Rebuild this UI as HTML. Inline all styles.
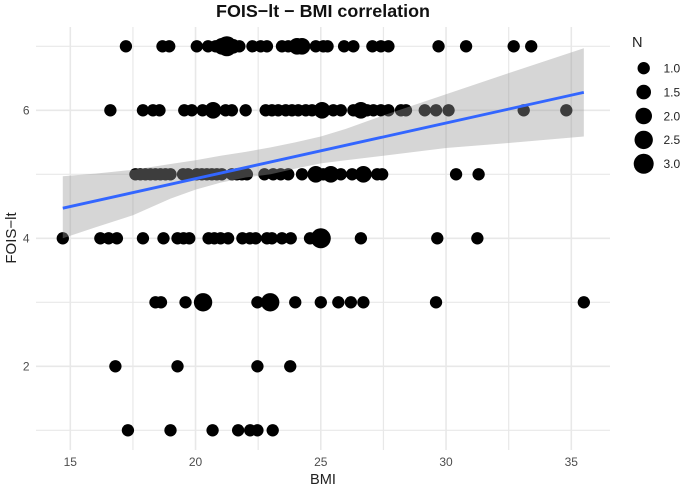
<!DOCTYPE html>
<html>
<head>
<meta charset="utf-8">
<title>FOIS-lt - BMI correlation</title>
<style>
html,body{margin:0;padding:0;background:#fff;}
svg{display:block;font-family:"Liberation Sans",sans-serif;filter:blur(.35px);}
</style>
</head>
<body>
<svg id="chart" width="685" height="488" viewBox="0 0 685 488" xmlns="http://www.w3.org/2000/svg">
<g id="grid"></g>
<g id="points"></g>
<path id="ribbon" fill="#999999" fill-opacity="0.4"></path>
<line id="trend" stroke="#3366ff" stroke-width="2.9"></line>
<g id="xticks"></g>
<g id="yticks"></g>
<text x="323" y="17" text-anchor="middle" font-size="17.6" font-weight="bold" fill="#111" textLength="214" lengthAdjust="spacingAndGlyphs">FOIS−lt − BMI correlation</text>
<text x="323" y="484" text-anchor="middle" font-size="14.6" fill="#222">BMI</text>
<text transform="translate(16,238) rotate(-90)" text-anchor="middle" font-size="15" fill="#222">FOIS−lt</text>
<g id="legend">
<text x="632" y="47" font-size="14.6" fill="#222">N</text>
</g>
</svg>
<script>
// Axis ticks
const xMajorTicks = [15, 20, 25, 30, 35];
const xMinorTicks = [17.5, 22.5, 27.5, 32.5];
const yMajorTicks = [2, 4, 6];
const yMinorTicks = [1, 3, 5, 7];
const legendValues = [1.0, 1.5, 2.0, 2.5, 3.0];

// Scatter rows: BMI values and the count N at each
const foisRows = [7, 6, 5, 4, 3, 2, 1];
const row7Bmi = [17.22,18.68,18.95,20.05,20.5,20.8,21.05,21.25,21.5,21.75,22.27,22.6,22.85,23.45,23.7,24.05,24.25,24.8,25.1,25.27,25.93,26.3,27.06,27.4,27.7,29.7,30.8,32.7,33.4];
const row7N   = [1,1,1,1,1,1,2,3,1.5,1,1,1,1,1,1,2,2,1,1,1,1,1,1,1,1,1,1,1,1];
const row6Bmi = [16.6,17.9,18.3,18.56,19.55,19.85,20.28,20.7,21.2,21.45,22,22.8,23.05,23.3,23.6,23.85,24.1,24.4,24.65,25.05,25.5,25.8,26.3,26.6,26.85,27.1,27.4,27.7,28.2,28.4,29.15,29.6,30.1,33.1,34.8];
const row6N   = [1,1,1,1,1,1,1,2,1,1,1,1,1,1,1,1,1,1,1,2,1,1,1,2,1,1,1,1,1,1,1,1,1,1,1];
const row5Bmi = [17.6,17.8,18,18.2,18.4,18.6,18.8,19,19.5,19.7,20.05,20.25,20.45,20.65,20.85,21.05,21.45,21.65,21.85,22.05,22.75,23.1,23.4,23.7,24.25,24.8,25.1,25.4,25.8,26.25,26.7,27.25,27.45,30.4,31.3];
const row5N   = [1,1,1,1,1,1,1,1,1,1,1,1,1,1,1,1,1,1,1,1,1,1,1,1,1,2,1,2,1,1,2,1,1,1,1];
const row4Bmi = [14.7,16.2,16.53,16.86,17.9,18.72,19.28,19.52,19.75,20.52,20.75,21,21.3,21.87,22.17,22.4,22.85,23.05,23.45,23.8,24.57,25,26.6,29.65,31.25];
const row4N   = [1,1,1,1,1,1,1,1,1,1,1,1,1,1,1,1,1,1,1,1,1,3,1,1,1];
const row3Bmi = [18.4,18.62,19.6,20.3,22.47,22.98,23.98,25,25.7,26.2,26.7,29.6,35.5];
const row3N   = [1,1,1,2.5,1,2.5,1,1,1,1,1,1,1];
const row2Bmi = [16.8,19.28,22.47,23.78];
const row2N   = [1,1,1,1];
const row1Bmi = [17.3,19,20.68,21.7,22.18,22.47,23.08];
const row1N   = [1,1,1,1,1,1,1];

// Fitted line and confidence band
const trendBmi = [14.7, 35.5];
const trendFois = [4.47, 6.28];
const bandBmi = [14.7, 16, 17.5, 19, 20, 21, 22, 23, 24, 25, 26, 27.5, 30, 32.5, 35.5];
const bandHigh = [4.97, 5.01, 5.07, 5.16, 5.22, 5.29, 5.35, 5.42, 5.5, 5.59, 5.71, 5.92, 6.25, 6.58, 6.97];
const bandLow = [4.0, 4.17, 4.36, 4.62, 4.76, 4.87, 4.95, 5.0, 5.09, 5.17, 5.22, 5.29, 5.41, 5.49, 5.59];

const NS = 'http://www.w3.org/2000/svg';
function xScale(v) { return 70.3 + (v - 15) * 25.05; }
function yScale(v) { return 430.3 - (v - 1) * 64; }
function rScale(n) { return Math.sqrt(38 + (n - 1) * 31); }
function make(tag, attrs, parent) {
  const el = document.createElementNS(NS, tag);
  for (const k in attrs) el.setAttribute(k, attrs[k]);
  parent.appendChild(el);
  return el;
}

const grid = document.getElementById('grid');
function vLine(v, w) {
  const el = make('line', {x1: xScale(v), x2: xScale(v), y1: 27, y2: 450, stroke: '#e8e8e8', 'stroke-width': w}, grid);
  
  
}
function hLine(v, w) {
  const el = make('line', {x1: 36, x2: 610, y1: yScale(v), y2: yScale(v), stroke: '#e8e8e8', 'stroke-width': w}, grid);
  
  
}
xMinorTicks.forEach(v => vLine(v, 1.2));
yMinorTicks.forEach(v => hLine(v, 1.2));
xMajorTicks.forEach(v => vLine(v, 1.6));
yMajorTicks.forEach(v => hLine(v, 1.6));

const pointLayer = document.getElementById('points');
function drawRow(fois, bmis, ns) {
  bmis.forEach((b, i) => {
    const c = make('circle', {cx: xScale(b), cy: yScale(fois), r: rScale(ns[i]), fill: '#000'}, pointLayer);
    
    
  });
}
const rowBmis = [row7Bmi, row6Bmi, row5Bmi, row4Bmi, row3Bmi, row2Bmi, row1Bmi];
const rowNs = [row7N, row6N, row5N, row4N, row3N, row2N, row1N];
foisRows.forEach((f, i) => drawRow(f, rowBmis[i], rowNs[i]));

let d = bandBmi.map((b, i) => (i ? 'L' : 'M') + xScale(b) + ' ' + yScale(bandHigh[i])).join(' ');
for (let i = bandBmi.length - 1; i >= 0; i--) d += ' L' + xScale(bandBmi[i]) + ' ' + yScale(bandLow[i]);
document.getElementById('ribbon').setAttribute('d', d + ' Z');

const trend = document.getElementById('trend');
trend.setAttribute('x1', xScale(trendBmi[0]));
trend.setAttribute('x2', xScale(trendBmi[1]));
trend.setAttribute('y1', yScale(trendFois[0]));
trend.setAttribute('y2', yScale(trendFois[1]));

const xticks = document.getElementById('xticks');
xMajorTicks.forEach(v => {
  const t = make('text', {x: xScale(v), y: 466, 'text-anchor': 'middle', 'font-size': 12, fill: '#4d4d4d'}, xticks);
  
  
  t.textContent = v;
});
const yticks = document.getElementById('yticks');
yMajorTicks.forEach(v => {
  const t = make('text', {x: 29.5, y: yScale(v) + 4.3, 'text-anchor': 'end', 'font-size': 12, fill: '#4d4d4d'}, yticks);
  
  
  t.textContent = v;
});

const legend = document.getElementById('legend');
legendValues.forEach((v, i) => {
  const cy = 68.2 + i * 23.9;
  const c = make('circle', {cx: 643.7, cy: cy, r: rScale(v), fill: '#000'}, legend);
  
  
  const t = make('text', {x: 663.5, y: cy + 4.3, 'font-size': 12, fill: '#222'}, legend);
  
  
  t.textContent = v.toFixed(1);
});
</script>
</body>
</html>
